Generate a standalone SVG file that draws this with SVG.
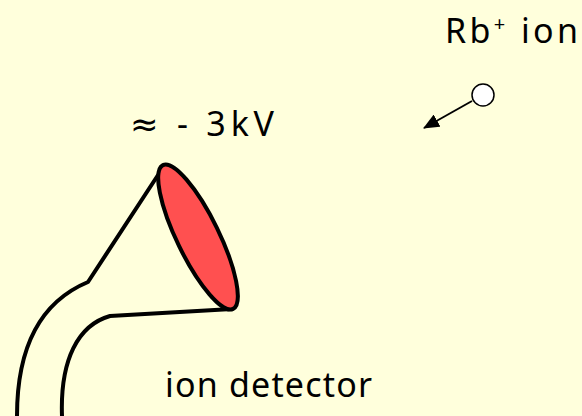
<svg xmlns="http://www.w3.org/2000/svg" width="582" height="416" viewBox="0 0 582 416">
  <defs>
    <style>
      .lbl { font-family: "Comic Sans MS", "Noto Sans", "DejaVu Sans", sans-serif; font-size: 34px; fill: #000; }
      .edge { fill: none; stroke: #000; stroke-width: 4; stroke-linecap: round; stroke-linejoin: round; }
    </style>
    <marker id="head" markerWidth="16" markerHeight="14" refX="15" refY="7" orient="auto" markerUnits="userSpaceOnUse" viewBox="0 0 16 14">
      <path d="M0,0 L16,7 L0,14 z" fill="#000"/>
    </marker>
  </defs>
  <rect width="582" height="416" fill="#FFFFDC"/>

  <!-- detector body: tube and cone -->
  <g id="detector">
    <path class="edge" d="M160,172 L88,282 C 45,300 17,340 17,416"/>
    <path class="edge" d="M232,309 L110,316 C 78,325 60,360 62,416"/>
    <ellipse cx="198" cy="237" rx="80" ry="21" transform="rotate(64 198 237)" fill="#FF5050" stroke="#000" stroke-width="4"/>
  </g>

  <!-- incoming ion -->
  <g id="ion">
    <circle cx="483" cy="95" r="11" fill="#fff" stroke="#000" stroke-width="1.5"/>
  </g>

  <g id="connectors">
    <line x1="472" y1="101" x2="424" y2="128" stroke="#000" stroke-width="2" marker-end="url(#head)"/>
  </g>

  <g id="labels">
    <text class="lbl" x="445" y="43" textLength="133">Rb<tspan font-size="20" dy="-12">+</tspan><tspan dy="12"> ion</tspan></text>
    <text class="lbl" x="130" y="136" textLength="144">≈ - 3kV</text>
    <text class="lbl" x="165" y="397" textLength="207">ion detector</text>
  </g>
</svg>
